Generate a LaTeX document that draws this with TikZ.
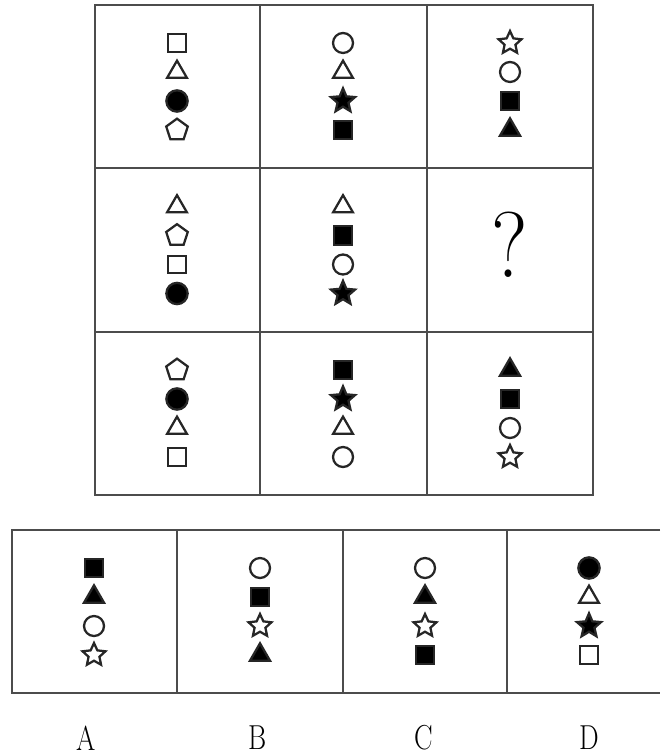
\documentclass[tikz,border=0pt]{standalone}
\usepackage{tikz}
\usetikzlibrary{shapes.geometric}

% one column of four symbols, centred at (#2,#3)
\newcommand{\symcol}[4]{%
  \foreach \s [count=\i] in {#4}
    \node[\s] (#1-\i) at (#2,{#3+(\i-2.5)*29}) {};%
}

\begin{document}
\begin{tikzpicture}[
        x=0.75pt, y=-0.75pt,
        gridline/.style={draw=black!70, line width=2pt},
        sym/.style={draw=black!85, line width=1.7pt, inner sep=0pt},
        osq/.style={sym, rectangle, minimum size=13pt},
        fsq/.style={sym, rectangle, fill=black, minimum size=14pt},
        ocirc/.style={sym, circle, minimum size=15pt},
        fcirc/.style={sym, circle, fill=black, minimum size=16pt},
        otri/.style={sym, regular polygon, regular polygon sides=3, minimum size=17pt},
        ftri/.style={sym, regular polygon, regular polygon sides=3, fill=black, minimum size=17.5pt},
        opent/.style={sym, regular polygon, regular polygon sides=5, minimum size=17pt},
        ostar/.style={sym, star, star points=5, star point ratio=2.1, minimum size=18pt},
        fstar/.style={sym, star, star points=5, star point ratio=2.2, fill=black, minimum size=19pt},
        letter/.style={font=\fontsize{26}{26}\selectfont, xscale=0.8}
      ]
      \useasboundingbox (0,0) rectangle (660,755);

      % the 3x3 grid
      \draw[gridline] (95,5) rectangle (593,495);
      \draw[gridline] (260,5) -- (260,495);
      \draw[gridline] (427,5) -- (427,495);
      \draw[gridline] (95,168) -- (593,168);
      \draw[gridline] (95,332) -- (593,332);

      % first row
      \symcol{a1}{177}{86.5}{osq,otri,fcirc,opent}
      \symcol{a2}{343}{86.5}{ocirc,otri,fstar,fsq}
      \symcol{a3}{510}{86.5}{ostar,ocirc,fsq,ftri}

      % second row
      \symcol{b1}{177}{250}{otri,opent,osq,fcirc}
      \symcol{b2}{343}{250}{otri,fsq,ocirc,fstar}
      \node[font=\fontsize{70}{70}\selectfont, xscale=0.9] (qm) at (510,245) {?};

      % third row
      \symcol{c1}{177}{413.5}{opent,fcirc,otri,osq}
      \symcol{c2}{343}{413.5}{fsq,fstar,otri,ocirc}
      \symcol{c3}{510}{413.5}{ftri,fsq,ocirc,ostar}

      % the four choices
      \draw[gridline] (660,530) -- (12,530) -- (12,693) -- (660,693);
      \draw[gridline] (177,530) -- (177,693);
      \draw[gridline] (343,530) -- (343,693);
      \draw[gridline] (507,530) -- (507,693);

      \symcol{oA}{94}{611.5}{fsq,ftri,ocirc,ostar}
      \symcol{oB}{260}{611.5}{ocirc,fsq,ostar,ftri}
      \symcol{oC}{425}{611.5}{ocirc,ftri,ostar,fsq}
      \symcol{oD}{589}{611.5}{fcirc,otri,fstar,osq}

      \node[letter] (lA) at (86,738) {A};
      \node[letter] (lB) at (258,738) {B};
      \node[letter] (lC) at (424,738) {C};
      \node[letter] (lD) at (589,738) {D};
\end{tikzpicture}
\end{document}
